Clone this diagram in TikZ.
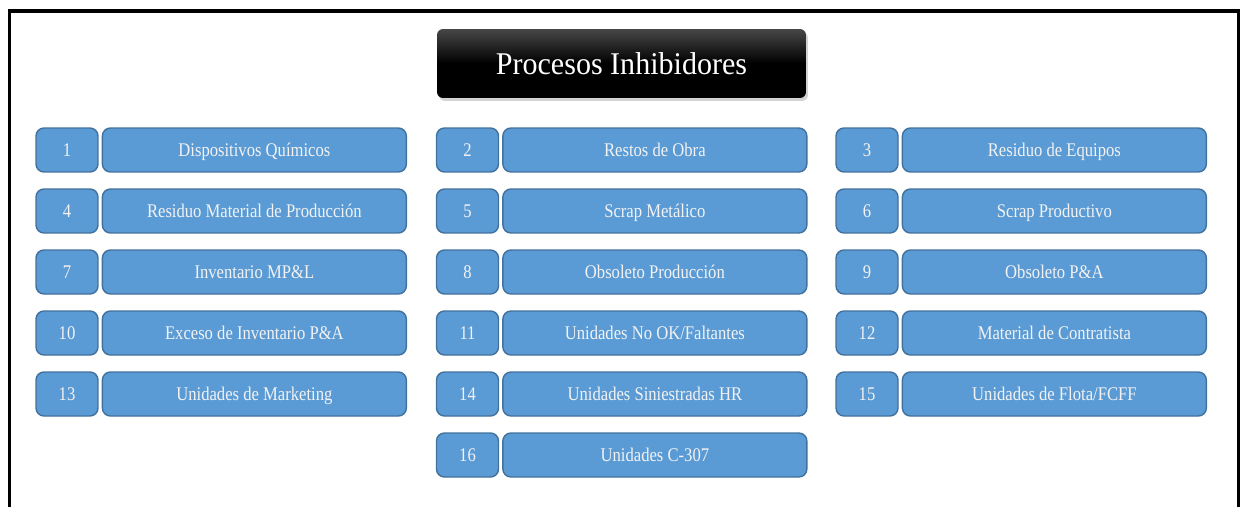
\documentclass[tikz,border=0pt]{standalone}
\usepackage{fontspec}
\setmainfont{Liberation Serif}
\newfontfamily\boxfont{Liberation Serif}[FakeStretch=0.86]
\newfontfamily\titlefont{Liberation Serif}[FakeStretch=0.95]
\usetikzlibrary{ positioning, % For easy node-relative placements
                 shadows,     % For the title shadow
               }
\definecolor{boxblue}{RGB}{91,155,213}
\definecolor{boxedge}{RGB}{65,113,156}

\begin{document}
\begin{tikzpicture}[x=0.02cm, y=-0.02cm,
    numbox/.style={draw=boxedge, line width=0.8pt, fill=boxblue, rounded corners=0.16cm,
                   minimum width=1.24cm, minimum height=0.88cm, inner sep=0pt,
                   text height=1.8ex, text depth=0.2ex,
                   text=white!95!black, font=\boxfont\fontsize{11}{13}\selectfont},
    labelbox/.style={numbox, minimum width=6.08cm},
    titlebox/.style={rounded corners=0.12cm, top color=black!72, bottom color=black,
                     middle color=black, minimum width=7.38cm, minimum height=1.38cm,
                     text=white, font=\titlefont\fontsize{18}{21}\selectfont,
                     drop shadow={opacity=0.35, shadow xshift=0.04cm, shadow yshift=-0.06cm}}]
    \useasboundingbox (0,0) rectangle (1243,507);
    % frame
    \draw[line width=2pt] (9.5,507) -- (9.5,11) -- (1238.5,11) -- (1238.5,507);
    \node[titlebox] (title) at (621.5,63.5) {Procesos Inhibidores};
    % first column
    \node[numbox] (n1) at (67,150) {1};
    \node[labelbox, right=0.06cm of n1] (l1) {Dispositivos Químicos};
    \node[numbox] (n4) at (67,211) {4};
    \node[labelbox, right=0.06cm of n4] (l4) {Residuo Material de Producción};
    \node[numbox] (n7) at (67,272) {7};
    \node[labelbox, right=0.06cm of n7] (l7) {Inventario MP\&L};
    \node[numbox] (n10) at (67,333) {10};
    \node[labelbox, right=0.06cm of n10] (l10) {Exceso de Inventario P\&A};
    \node[numbox] (n13) at (67,394) {13};
    \node[labelbox, right=0.06cm of n13] (l13) {Unidades de Marketing};
    % second column
    \node[numbox] (n2) at (467.5,150) {2};
    \node[labelbox, right=0.06cm of n2] (l2) {Restos de Obra};
    \node[numbox] (n5) at (467.5,211) {5};
    \node[labelbox, right=0.06cm of n5] (l5) {Scrap Metálico};
    \node[numbox] (n8) at (467.5,272) {8};
    \node[labelbox, right=0.06cm of n8] (l8) {Obsoleto Producción};
    \node[numbox] (n11) at (467.5,333) {11};
    \node[labelbox, right=0.06cm of n11] (l11) {Unidades No OK/Faltantes};
    \node[numbox] (n14) at (467.5,394) {14};
    \node[labelbox, right=0.06cm of n14] (l14) {Unidades Siniestradas HR};
    \node[numbox] (n16) at (467.5,455) {16};
    \node[labelbox, right=0.06cm of n16] (l16) {Unidades C-307};
    % third column
    \node[numbox] (n3) at (867,150) {3};
    \node[labelbox, right=0.06cm of n3] (l3) {Residuo de Equipos};
    \node[numbox] (n6) at (867,211) {6};
    \node[labelbox, right=0.06cm of n6] (l6) {Scrap Productivo};
    \node[numbox] (n9) at (867,272) {9};
    \node[labelbox, right=0.06cm of n9] (l9) {Obsoleto P\&A};
    \node[numbox] (n12) at (867,333) {12};
    \node[labelbox, right=0.06cm of n12] (l12) {Material de Contratista};
    \node[numbox] (n15) at (867,394) {15};
    \node[labelbox, right=0.06cm of n15] (l15) {Unidades de Flota/FCFF};
\end{tikzpicture}
\end{document}
